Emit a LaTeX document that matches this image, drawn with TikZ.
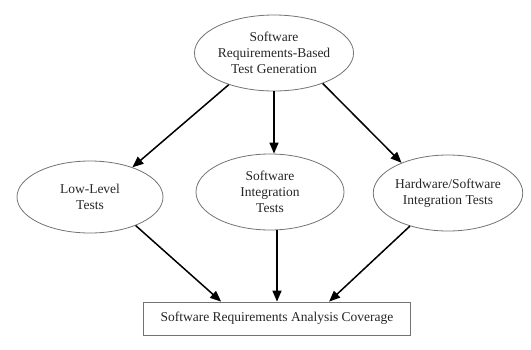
\documentclass[tikz,border=0pt]{standalone}
\usepackage{fontspec}
\setmainfont{Liberation Serif}
\usetikzlibrary{shapes.geometric,arrows.meta}
\begin{document}
\begin{tikzpicture}[x=1pt,y=-1pt,
  oval/.style={ellipse,draw=black!55,line width=0.8pt,inner sep=0pt,align=center,
    font=\fontsize{13.5}{16}\selectfont,text=black!85},
  covbox/.style={rectangle,draw=black!55,line width=0.8pt,inner sep=0pt,
    font=\fontsize{13.5}{16}\selectfont,text=black!85},
  flow/.style={line width=1.5pt,-{Triangle[length=11pt,width=9pt]}}]
\useasboundingbox (0,0) rectangle (531,349);
\node[oval,minimum width=150pt,minimum height=76pt] (top) at (274,53)
  {Software\\Requirements-Based\\Test Generation};
\node[oval,minimum width=146pt,minimum height=72pt] (low) at (90,197)
  {Low-Level\\Tests};
\node[oval,minimum width=148pt,minimum height=76pt] (mid) at (270,192)
  {Software\\Integration\\Tests};
\node[oval,minimum width=146pt,minimum height=76pt] (hw) at (448,193)
  {Hardware/Software\\Integration Tests};
\node[covbox,minimum width=267pt,minimum height=33pt] (cov) at (277,318.5)
  {Software Requirements Analysis Coverage};
\draw[flow] (top.-145) -- (low.35);
\draw[flow] (top.south) -- (top.south |- mid.north);
\draw[flow] (top.-32) -- (hw.147);
\draw[flow] (low.-32) -- ([xshift=78pt]cov.north west);
\draw[flow] (cov.north |- mid.south) -- (cov.north);
\draw[flow] (hw.-139) -- ([xshift=186pt]cov.north west);
\end{tikzpicture}
\end{document}
